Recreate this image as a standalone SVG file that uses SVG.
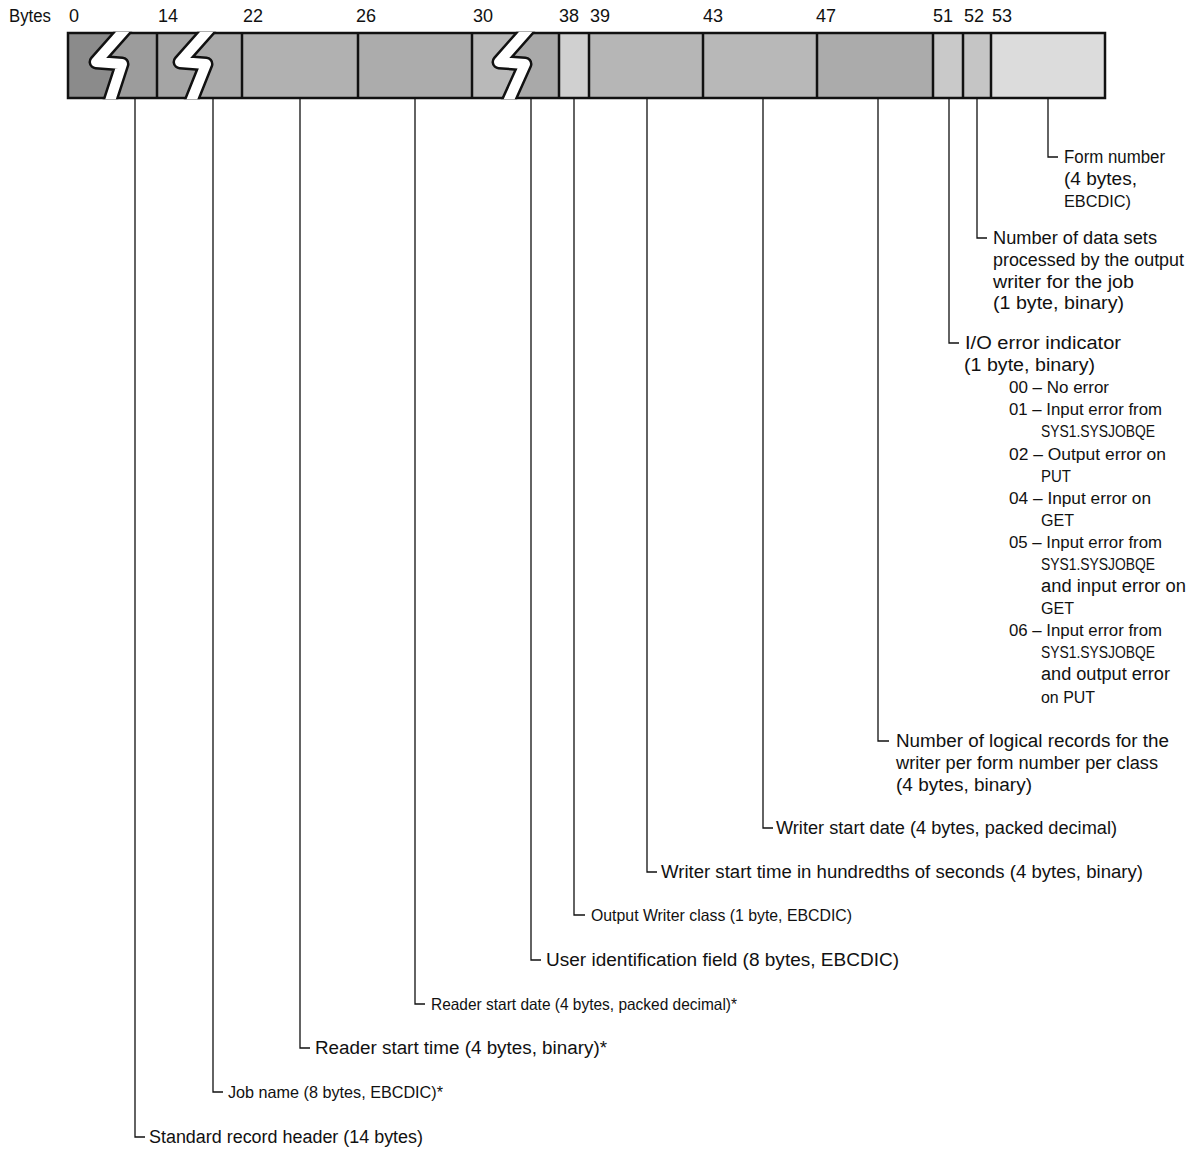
<svg xmlns="http://www.w3.org/2000/svg" width="1191" height="1149" viewBox="0 0 1191 1149">
<style>
text{font-family:"Liberation Sans",Arial,sans-serif;font-size:18px;fill:#111}
text.n{font-size:16.5px}
.cell{stroke:none}
.div{stroke:#111;stroke-width:2.5}
.lead{fill:none;stroke:#111;stroke-width:1.3}
.brk-b{fill:none;stroke:#111;stroke-width:15;stroke-linejoin:round}
.brk-w{fill:none;stroke:#fff;stroke-width:10;stroke-linejoin:round}
</style>
<defs>
<clipPath id="barclip"><rect x="60" y="31.75" width="1050" height="67.5"/></clipPath>
</defs>
<rect width="1191" height="1149" fill="#fff"/>

<g id="byte-scale">
<text x="9" y="22" textLength="42" lengthAdjust="spacingAndGlyphs">Bytes</text>
<text x="69" y="22">0</text>
<text x="158" y="22">14</text>
<text x="243" y="22">22</text>
<text x="356" y="22">26</text>
<text x="473" y="22">30</text>
<text x="559" y="22">38</text>
<text x="590" y="22">39</text>
<text x="703" y="22">43</text>
<text x="816" y="22">47</text>
<text x="933" y="22">51</text>
<text x="964" y="22">52</text>
<text x="992" y="22">53</text>
</g>

<g id="record-bar">
<polygon id="cell-header-a" class="cell" fill="#8b8b8b" points="68,33 122,33 96,62 122,64 111,98 68,98"/>
<polygon id="cell-header-b" class="cell" fill="#9c9c9c" points="122,33 157,33 157,98 111,98 122,64 96,62"/>
<polygon id="cell-jobname-a" class="cell" fill="#a5a5a5" points="157,33 206,33 180,62 206,64 193,98 157,98"/>
<polygon id="cell-jobname-b" class="cell" fill="#aaaaaa" points="206,33 242,33 242,98 193,98 206,64 180,62"/>
<rect id="cell-reader-time" class="cell" fill="#b1b1b1" x="242" y="33" width="116" height="65"/>
<rect id="cell-reader-date" class="cell" fill="#acacac" x="358" y="33" width="114" height="65"/>
<polygon id="cell-userid-a" class="cell" fill="#b9b9b9" points="472,33 525,33 499,62 525,64 510,98 472,98"/>
<polygon id="cell-userid-b" class="cell" fill="#a9a9a9" points="525,33 559,33 559,98 510,98 525,64 499,62"/>
<rect id="cell-class" class="cell" fill="#d0d0d0" x="559" y="33" width="30" height="65"/>
<rect id="cell-writer-time" class="cell" fill="#b6b6b6" x="589" y="33" width="114" height="65"/>
<rect id="cell-writer-date" class="cell" fill="#b8b8b8" x="703" y="33" width="114" height="65"/>
<rect id="cell-logical" class="cell" fill="#ababab" x="817" y="33" width="116" height="65"/>
<rect id="cell-io" class="cell" fill="#c9c9c9" x="933" y="33" width="30" height="65"/>
<rect id="cell-datasets" class="cell" fill="#c5c5c5" x="963" y="33" width="28" height="65"/>
<rect id="cell-form" class="cell" fill="#dcdcdc" x="991" y="33" width="114" height="65"/>
<rect x="68" y="33" width="1037" height="65" fill="none" stroke="#111" stroke-width="2.5"/>
<g>
<line class="div" x1="157" y1="33" x2="157" y2="98"/>
<line class="div" x1="242" y1="33" x2="242" y2="98"/>
<line class="div" x1="358" y1="33" x2="358" y2="98"/>
<line class="div" x1="472" y1="33" x2="472" y2="98"/>
<line class="div" x1="559" y1="33" x2="559" y2="98"/>
<line class="div" x1="589" y1="33" x2="589" y2="98"/>
<line class="div" x1="703" y1="33" x2="703" y2="98"/>
<line class="div" x1="817" y1="33" x2="817" y2="98"/>
<line class="div" x1="933" y1="33" x2="933" y2="98"/>
<line class="div" x1="963" y1="33" x2="963" y2="98"/>
<line class="div" x1="991" y1="33" x2="991" y2="98"/>
</g>
<g clip-path="url(#barclip)">
<polyline class="brk-b" points="127,27 96,62 122,64 109,104"/>
<polyline class="brk-w" points="127,27 96,62 122,64 109,104"/>
<polyline class="brk-b" points="211,27 180,62 206,64 190,104"/>
<polyline class="brk-w" points="211,27 180,62 206,64 190,104"/>
<polyline class="brk-b" points="530,27 499,62 525,64 507,104"/>
<polyline class="brk-w" points="530,27 499,62 525,64 507,104"/>
</g>
</g>

<g id="connectors">
<polyline class="lead" points="135,98 135,1137 145,1137"/>
<polyline class="lead" points="213,98 213,1092 223,1092"/>
<polyline class="lead" points="300,98 300,1048 310,1048"/>
<polyline class="lead" points="415,98 415,1004 425,1004"/>
<polyline class="lead" points="531,98 531,960 541,960"/>
<polyline class="lead" points="574,98 574,915 585,915"/>
<polyline class="lead" points="647,98 647,872 657,872"/>
<polyline class="lead" points="763,98 763,828 773,828"/>
<polyline class="lead" points="878,98 878,741 889,741"/>
<polyline class="lead" points="949,98 949,343 959,343"/>
<polyline class="lead" points="977,98 977,238 987,238"/>
<polyline class="lead" points="1048,98 1048,157 1058,157"/>
</g>

<g id="label-header">
<text x="149" y="1143" textLength="274" lengthAdjust="spacingAndGlyphs">Standard record header (14 bytes)</text>
</g>
<g id="label-jobname">
<text class="n" x="228" y="1098" textLength="215" lengthAdjust="spacingAndGlyphs">Job name (8 bytes, EBCDIC)*</text>
</g>
<g id="label-reader-time">
<text x="315" y="1054" textLength="292" lengthAdjust="spacingAndGlyphs">Reader start time (4 bytes, binary)*</text>
</g>
<g id="label-reader-date">
<text class="n" x="431" y="1010" textLength="306" lengthAdjust="spacingAndGlyphs">Reader start date (4 bytes, packed decimal)*</text>
</g>
<g id="label-userid">
<text x="546" y="966" textLength="353" lengthAdjust="spacingAndGlyphs">User identification field (8 bytes, EBCDIC)</text>
</g>
<g id="label-class">
<text class="n" x="591" y="921" textLength="261" lengthAdjust="spacingAndGlyphs">Output Writer class (1 byte, EBCDIC)</text>
</g>
<g id="label-writer-time">
<text x="661" y="878" textLength="482" lengthAdjust="spacingAndGlyphs">Writer start time in hundredths of seconds (4 bytes, binary)</text>
</g>
<g id="label-writer-date">
<text x="776" y="834" textLength="341" lengthAdjust="spacingAndGlyphs">Writer start date (4 bytes, packed decimal)</text>
</g>
<g id="label-logical">
<text x="896" y="747" textLength="273" lengthAdjust="spacingAndGlyphs">Number of logical records for the</text>
<text x="896" y="769" textLength="262" lengthAdjust="spacingAndGlyphs">writer per form number per class</text>
<text x="896" y="791" textLength="136" lengthAdjust="spacingAndGlyphs">(4 bytes, binary)</text>
</g>
<g id="label-io">
<text x="965" y="349" textLength="156" lengthAdjust="spacingAndGlyphs">I/O error indicator</text>
<text x="964" y="371" textLength="131" lengthAdjust="spacingAndGlyphs">(1 byte, binary)</text>
<text class="n" x="1009" y="393" textLength="100" lengthAdjust="spacingAndGlyphs">00 – No error</text>
<text class="n" x="1009" y="415" textLength="153" lengthAdjust="spacingAndGlyphs">01 – Input error from</text>
<text class="n" x="1041" y="437" textLength="114" lengthAdjust="spacingAndGlyphs">SYS1.SYSJOBQE</text>
<text class="n" x="1009" y="460" textLength="157" lengthAdjust="spacingAndGlyphs">02 – Output error on</text>
<text class="n" x="1041" y="482" textLength="30" lengthAdjust="spacingAndGlyphs">PUT</text>
<text class="n" x="1009" y="504" textLength="142" lengthAdjust="spacingAndGlyphs">04 – Input error on</text>
<text class="n" x="1041" y="526" textLength="33" lengthAdjust="spacingAndGlyphs">GET</text>
<text class="n" x="1009" y="548" textLength="153" lengthAdjust="spacingAndGlyphs">05 – Input error from</text>
<text class="n" x="1041" y="570" textLength="114" lengthAdjust="spacingAndGlyphs">SYS1.SYSJOBQE</text>
<text x="1041" y="592" textLength="145" lengthAdjust="spacingAndGlyphs">and input error on</text>
<text class="n" x="1041" y="614" textLength="33" lengthAdjust="spacingAndGlyphs">GET</text>
<text class="n" x="1009" y="636" textLength="153" lengthAdjust="spacingAndGlyphs">06 – Input error from</text>
<text class="n" x="1041" y="658" textLength="114" lengthAdjust="spacingAndGlyphs">SYS1.SYSJOBQE</text>
<text x="1041" y="680" textLength="129" lengthAdjust="spacingAndGlyphs">and output error</text>
<text class="n" x="1041" y="703" textLength="54" lengthAdjust="spacingAndGlyphs">on PUT</text>
</g>
<g id="label-datasets">
<text x="993" y="244" textLength="164" lengthAdjust="spacingAndGlyphs">Number of data sets</text>
<text x="993" y="266" textLength="191" lengthAdjust="spacingAndGlyphs">processed by the output</text>
<text x="993" y="288" textLength="141" lengthAdjust="spacingAndGlyphs">writer for the job</text>
<text x="993" y="309" textLength="131" lengthAdjust="spacingAndGlyphs">(1 byte, binary)</text>
</g>
<g id="label-form">
<text x="1064" y="163" textLength="101" lengthAdjust="spacingAndGlyphs">Form number</text>
<text x="1064" y="185" textLength="73" lengthAdjust="spacingAndGlyphs">(4 bytes,</text>
<text class="n" x="1064" y="207" textLength="67" lengthAdjust="spacingAndGlyphs">EBCDIC)</text>
</g>
</svg>
